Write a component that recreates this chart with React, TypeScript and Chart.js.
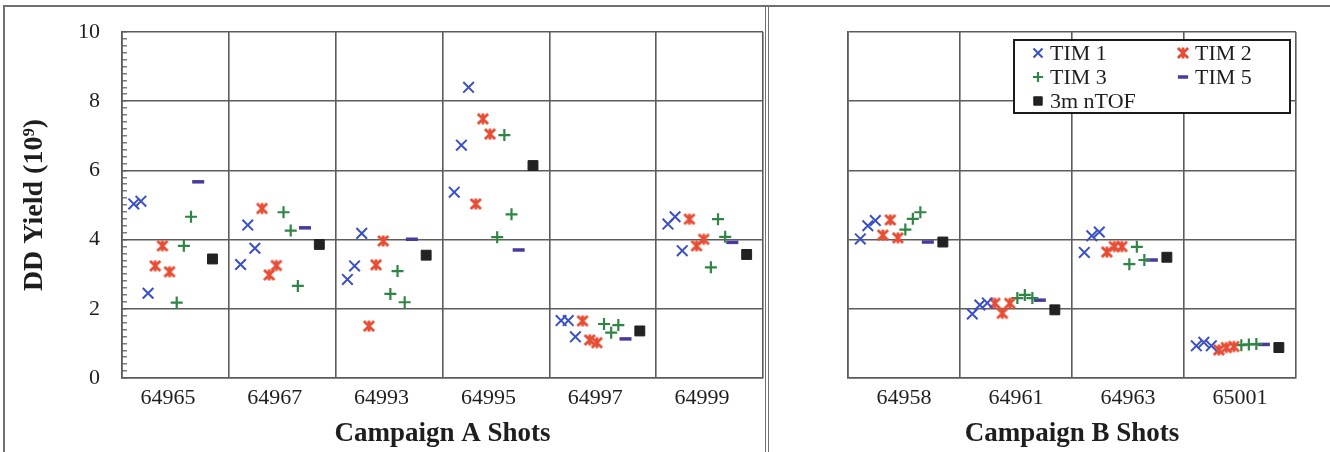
import React, { useEffect, useRef } from 'react';
import { Chart, registerables } from 'chart.js';
import { drawPoint } from 'chart.js/helpers';

Chart.register(...registerables);

// ---------------- data ----------------
const shotsA = ['64965', '64967', '64993', '64995', '64997', '64999'];
const shotsB = ['64958', '64961', '64963', '65001'];

// three readings per TIM and shot (Campaign A)
const tim1A = [[5.03, 5.11, 2.45], [3.28, 4.42, 3.75], [2.85, 3.24, 4.18], [5.37, 6.73, 8.4], [1.66, 1.66, 1.19], [4.45, 4.66, 3.68]];
const tim2A = [[3.24, 3.82, 3.07], [4.9, 2.98, 3.25], [1.5, 3.27, 3.96], [5.03, 7.49, 7.05], [1.65, 1.1, 1.02], [4.59, 3.82, 4.01]];
const tim3A = [[2.18, 3.82, 4.66], [4.79, 4.26, 2.66], [2.43, 3.09, 2.19], [4.07, 7.02, 4.73], [1.56, 1.31, 1.53], [3.2, 4.59, 4.08]];
const tim5A = [5.67, 4.34, 4.01, 3.7, 1.13, 3.92];
const ntofA = [3.44, 3.86, 3.55, 6.14, 1.36, 3.57];

// Campaign B
const tim1B = [[4.02, 4.4, 4.55], [1.85, 2.11, 2.17], [3.63, 4.11, 4.22], [0.93, 1.03, 0.93]];
const tim2B = [[4.13, 4.57, 4.05], [2.16, 1.87, 2.16], [3.64, 3.8, 3.8], [0.81, 0.88, 0.91]];
const tim3B = [[4.29, 4.6, 4.79], [2.31, 2.4, 2.31], [3.29, 3.79, 3.41], [0.95, 0.97, 0.98]];
const tim5B = [3.93, 2.25, 3.41, 0.97];
const ntofB = [3.93, 1.97, 3.49, 0.88];

const seriesNames = ['TIM 1', 'TIM 2', 'TIM 3', 'TIM 5', '3m nTOF'];
const yMajorTicks = [0, 2, 4, 6, 8, 10];
const yTitle = 'DD Yield (10\u2079)';
const xTitleA = 'Campaign A Shots';
const xTitleB = 'Campaign B Shots';

// ---------------- styles ----------------
const FONT = "'Liberation Serif', 'Times New Roman', Times, serif";
const GRID = '#5c5c5c';
const TEXT = '#1e1e1e';
const COLORS = ['#3b50c6', '#e64d35', '#2e8544', '#4a3a9c', '#222222'];

function makeAsterisk(color: string, size: number, lw: number) {
  const c = document.createElement('canvas');
  c.width = size;
  c.height = size;
  const g = c.getContext('2d')!;
  g.strokeStyle = color;
  g.lineWidth = lw;
  const p = lw / 2 + 0.5;
  const q = size - p;
  const m = size / 2;
  g.beginPath();
  g.moveTo(p, p);
  g.lineTo(q, q);
  g.moveTo(q, p);
  g.lineTo(p, q);
  g.moveTo(m, p - 0.5);
  g.lineTo(m, q + 0.5);
  g.stroke();
  return c;
}

const FIRST = 0.11;
const STEP = 0.067;

function buildDatasets(t1: number[][], t2: number[][], t3: number[][], t5: number[], nt: number[], star: HTMLCanvasElement) {
  const grp = (groups: number[][], slot0: number) =>
    groups.flatMap((g, k) => g.map((v, j) => ({ x: k + FIRST + STEP * (slot0 + j), y: v })));
  const one = (vals: number[], slot: number) => vals.map((v, k) => ({ x: k + FIRST + STEP * slot, y: v }));
  return [
    { label: seriesNames[0], data: grp(t1, 0), pointStyle: 'crossRot', pointRadius: 7.5, borderWidth: 2, borderColor: COLORS[0], backgroundColor: COLORS[0] },
    { label: seriesNames[1], data: grp(t2, 3), pointStyle: star, pointRadius: 7, borderWidth: 2.5, borderColor: COLORS[1], backgroundColor: COLORS[1] },
    { label: seriesNames[2], data: grp(t3, 6), pointStyle: 'cross', pointRadius: 6, borderWidth: 2.2, borderColor: COLORS[2], backgroundColor: COLORS[2] },
    { label: seriesNames[3], data: one(t5, 9), pointStyle: 'line', pointRadius: 6, borderWidth: 3.5, borderColor: COLORS[3], backgroundColor: COLORS[3] },
    { label: seriesNames[4], data: one(nt, 11), pointStyle: 'rect', pointRadius: 7, borderWidth: 1, borderColor: COLORS[4], backgroundColor: COLORS[4] },
  ];
}

function xAxis(labels: string[], labelOffset: number, title: string) {
  const n = labels.length;
  return {
    type: 'linear',
    position: 'bottom',
    min: 0,
    max: n,
    afterBuildTicks: (s: any) => {
      const t: any[] = [];
      for (let k = 0; k <= n; k++) t.push({ value: k });
      for (let k = 0; k < n; k++) t.push({ value: k + labelOffset });
      s.ticks = t;
    },
    afterFit: (s: any) => {
      s.height = 74;
      s.paddingLeft = 0;
      s.paddingRight = 0;
    },
    ticks: {
      autoSkip: false,
      maxRotation: 0,
      minRotation: 0,
      padding: 7,
      color: TEXT,
      font: { family: FONT, size: 22 },
      callback: (v: number) => {
        const k = Math.round(v - labelOffset);
        return k >= 0 && k < n && Math.abs(v - (k + labelOffset)) < 1e-6 ? labels[k] : '';
      },
    },
    grid: {
      drawTicks: false,
      lineWidth: 1.6,
      color: (c: any) => (c.tick && Math.abs(c.tick.value - Math.round(c.tick.value)) < 1e-6 ? GRID : 'rgba(0,0,0,0)'),
    },
    border: { color: GRID, width: 1.6 },
    title: {
      display: true,
      text: title,
      color: TEXT,
      font: { family: FONT, size: 27, weight: 'bold' },
      padding: { top: 0, bottom: 2 },
    },
  };
}

const isMajor = (v: number) => yMajorTicks.some((m) => Math.abs(m - v) < 1e-6);

const legendPlugin = {
  id: 'boxLegend',
  afterDraw(chart: any) {
    const { ctx, chartArea } = chart;
    const w = 276;
    const h = 73;
    const right = chartArea.right - 6;
    const top = chartArea.top + 8;
    const left = right - w;
    ctx.save();
    ctx.fillStyle = '#ffffff';
    ctx.fillRect(left, top, w, h);
    ctx.lineWidth = 2;
    ctx.strokeStyle = '#1a1a1a';
    ctx.strokeRect(left, top, w, h);
    ctx.font = `22px ${FONT}`;
    ctx.textBaseline = 'middle';
    ctx.textAlign = 'left';
    chart.data.datasets.forEach((ds: any, i: number) => {
      const col = i % 2;
      const row = Math.floor(i / 2);
      const mx = left + (col ? 169 : 24);
      const my = top + 13 + row * 24;
      ctx.strokeStyle = ds.borderColor;
      ctx.fillStyle = ds.backgroundColor;
      ctx.lineWidth = ds.borderWidth;
      const r = typeof ds.pointStyle === 'string' ? ds.pointRadius * 0.85 : ds.pointRadius;
      drawPoint(ctx, { pointStyle: ds.pointStyle, rotation: 0, radius: r, borderWidth: ds.borderWidth }, mx, my);
      ctx.fillStyle = TEXT;
      ctx.fillText(ds.label, mx + 12, my + 1);
    });
    ctx.restore();
  },
};

export default function App() {
  const refA = useRef<HTMLCanvasElement>(null);
  const refB = useRef<HTMLCanvasElement>(null);

  useEffect(() => {
    const star = makeAsterisk(COLORS[1], 14, 2.8);

    const chartA = new Chart(refA.current!, {
      type: 'scatter',
      data: { datasets: buildDatasets(tim1A, tim2A, tim3A, tim5A, ntofA, star) as any },
      options: {
        animation: false,
        responsive: false,
        devicePixelRatio: 1,
        layout: { autoPadding: false, padding: { left: 14, right: 3, top: 32, bottom: 0 } },
        plugins: { legend: { display: false }, tooltip: { enabled: false } },
        scales: {
          x: xAxis(shotsA, 0.43, xTitleA) as any,
          y: {
            type: 'linear',
            min: 0,
            max: 10,
            afterFit: (s: any) => {
              s.width = 108;
              s.paddingTop = 0;
              s.paddingBottom = 0;
            },
            ticks: {
              stepSize: 0.2,
              autoSkip: false,
              padding: 27,
              color: TEXT,
              font: { family: FONT, size: 22 },
              callback: (v: number) => (isMajor(v) ? String(Math.round(v)) : ''),
            },
            grid: {
              lineWidth: 1.6,
              color: (c: any) => (c.tick && isMajor(c.tick.value) ? GRID : 'rgba(0,0,0,0)'),
              drawTicks: true,
              tickLength: -5,
              tickWidth: 1.2,
              tickColor: GRID,
            },
            border: { color: GRID, width: 1.6 },
            title: {
              display: true,
              text: yTitle,
              color: TEXT,
              font: { family: FONT, size: 28, weight: 'bold' },
              padding: { top: 4, bottom: 0 },
            },
          } as any,
        },
      },
    });

    const chartB = new Chart(refB.current!, {
      type: 'scatter',
      data: { datasets: buildDatasets(tim1B, tim2B, tim3B, tim5B, ntofB, star) as any },
      options: {
        animation: false,
        responsive: false,
        devicePixelRatio: 1,
        layout: { autoPadding: false, padding: { left: 77, right: 34, top: 32, bottom: 0 } },
        plugins: { legend: { display: false }, tooltip: { enabled: false } },
        scales: {
          x: xAxis(shotsB, 0.5, xTitleB) as any,
          y: {
            type: 'linear',
            min: 0,
            max: 10,
            afterFit: (s: any) => {
              s.width = 0;
              s.paddingTop = 0;
              s.paddingBottom = 0;
            },
            ticks: { display: false, stepSize: 2 },
            grid: { lineWidth: 1.6, color: GRID, drawTicks: false },
            border: { color: GRID, width: 1.6 },
          } as any,
        },
      },
      plugins: [legendPlugin],
    });

    return () => {
      chartA.destroy();
      chartB.destroy();
    };
  }, []);

  const line = '#707070';
  return (
    <div style={{ position: 'absolute', left: 0, top: 0, width: 1330, height: 452, background: '#ffffff', overflow: 'hidden' }}>
      <canvas ref={refA} width={766} height={452} style={{ position: 'absolute', left: 0, top: 0 }} />
      <canvas ref={refB} width={559} height={452} style={{ position: 'absolute', left: 771, top: 0 }} />
      <div style={{ position: 'absolute', left: 3, top: 5, width: 1327, height: 0, borderTop: `2px solid ${line}` }} />
      <div style={{ position: 'absolute', left: 3, top: 5, width: 0, height: 447, borderLeft: `2px solid ${line}` }} />
      <div style={{ position: 'absolute', left: 765, top: 5, width: 2, height: 447, borderLeft: `1.5px solid ${line}`, borderRight: `1.5px solid ${line}` }} />
    </div>
  );
}
